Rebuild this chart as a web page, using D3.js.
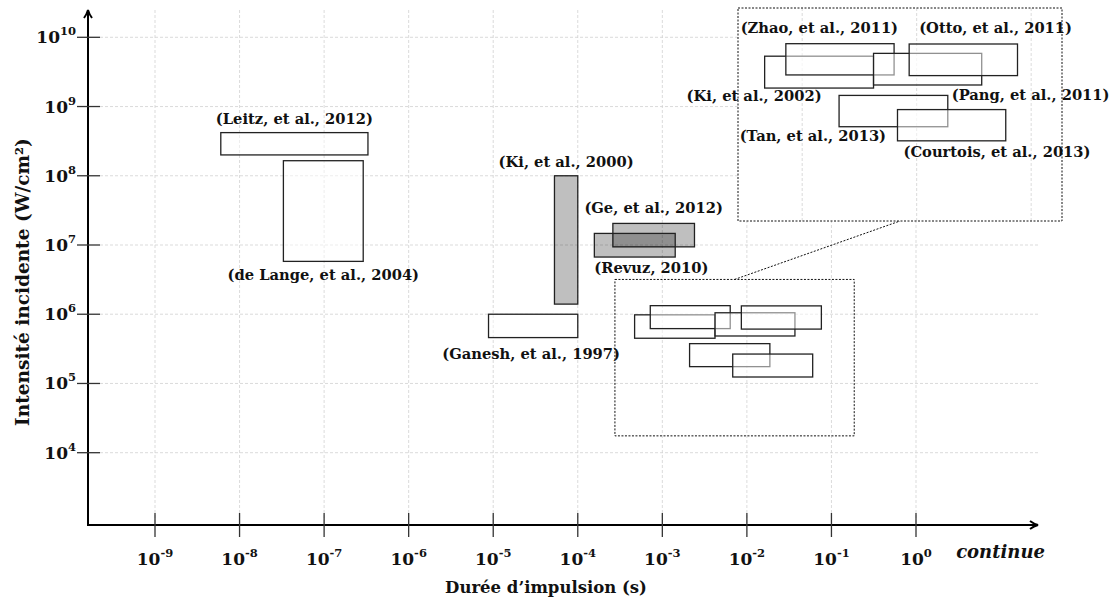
<!DOCTYPE html>
<html>
<head>
<meta charset="UTF-8">
<title>Intensité incidente vs durée d'impulsion</title>
<script src="https://d3js.org/d3.v7.min.js"></script>
<style>
  body { margin: 0; background: #fff; }
  text { font-family: "DejaVu Serif", serif; font-weight: bold; fill: #111; }
  .grid line { stroke: #d2d2d2; stroke-dasharray: 3,2; stroke-width: 0.8; }
  .tick { stroke: #333; stroke-width: 1.3; }
  .axis { stroke: #000; stroke-width: 2; fill: none; }
  .frame { fill: none; stroke: #111; stroke-width: 1; stroke-dasharray: 2,1.5; }
  .box { fill: #fff; fill-opacity: 0.5; stroke: #222; stroke-width: 1.3; }
  .box.shaded { fill: #000; fill-opacity: 0.25; }
</style>
</head>
<body>
<div id="chart"></div>
<script>
// études : durée d'impulsion (s) et intensité (W/cm²), min / max
const studies = [
  "Leitz, et al., 2012", "de Lange, et al., 2004", "Ki, et al., 2000",
  "Ge, et al., 2012", "Revuz, 2010", "Ganesh, et al., 1997",
  "Ki, et al., 2002", "Zhao, et al., 2011", "Pang, et al., 2011",
  "Otto, et al., 2011", "Tan, et al., 2013", "Courtois, et al., 2013"
];
const durationMin  = [6e-9, 3.3e-8, 5.3e-5, 2.6e-4, 1.57e-4, 8.8e-6, 4.7e-4, 7.2e-4, 4.2e-3, 8.6e-3, 2.1e-3, 6.8e-3];
const durationMax  = [3.3e-7, 2.9e-7, 1e-4, 2.4e-3, 1.42e-3, 1e-4, 4.2e-3, 6.35e-3, 3.7e-2, 7.6e-2, 1.87e-2, 6.0e-2];
const intensityMin = [2e8, 5.8e6, 1.4e6, 9.4e6, 6.7e6, 4.6e5, 4.5e5, 6.2e5, 4.85e5, 6.1e5, 1.75e5, 1.24e5];
const intensityMax = [4.2e8, 1.65e8, 1e8, 2.05e7, 1.47e7, 1e6, 9.8e5, 1.33e6, 1.05e6, 1.32e6, 3.76e5, 2.66e5];

const shadedStudies = ["Ki, et al., 2000", "Ge, et al., 2012", "Revuz, 2010"];
const zoomedStudies = ["Ki, et al., 2002", "Zhao, et al., 2011", "Pang, et al., 2011",
                       "Otto, et al., 2011", "Tan, et al., 2013", "Courtois, et al., 2013"];

const xTickValues = [1e-9, 1e-8, 1e-7, 1e-6, 1e-5, 1e-4, 1e-3, 1e-2, 1e-1, 1];
const yTickValues = [1e4, 1e5, 1e6, 1e7, 1e8, 1e9, 1e10];
const continuousLabel = "continue";
const continuousPos = 10; // place "continue" one decade after 10^0
const zoomDuration = [2.75e-4, 0.186];
const zoomIntensity = [1.75e4, 3.18e6];

// label placement relative to each box
const labelPlacement = {
  "Leitz, et al., 2012":    { v: "top", h: "mid", anchor: "middle", dx: 0, dy: -9 },
  "de Lange, et al., 2004": { v: "bottom", h: "mid", anchor: "middle", dx: 0, dy: 19 },
  "Ki, et al., 2000":       { v: "top", h: "mid", anchor: "middle", dx: 0, dy: -9 },
  "Ge, et al., 2012":       { v: "top", h: "mid", anchor: "middle", dx: 0, dy: -10 },
  "Revuz, 2010":            { v: "bottom", h: "left", anchor: "start", dx: 0, dy: 16 },
  "Ganesh, et al., 1997":   { v: "bottom", h: "mid", anchor: "middle", dx: -2, dy: 21 },
  "Ki, et al., 2002":       { v: "bottom", h: "left", anchor: "end", dx: 57, dy: 13 },
  "Zhao, et al., 2011":     { v: "top", h: "right", anchor: "end", dx: 4, dy: -11 },
  "Pang, et al., 2011":     { v: "bottom", h: "right", anchor: "start", dx: -30, dy: 15 },
  "Otto, et al., 2011":     { v: "top", h: "left", anchor: "start", dx: 10, dy: -11 },
  "Tan, et al., 2013":      { v: "bottom", h: "left", anchor: "end", dx: 47, dy: 14 },
  "Courtois, et al., 2013": { v: "bottom", h: "left", anchor: "start", dx: 6, dy: 16 }
};

const data = studies.map((s, i) => ({
  name: s, x0: durationMin[i], x1: durationMax[i], y0: intensityMin[i], y1: intensityMax[i],
  shaded: shadedStudies.includes(s), zoomed: zoomedStudies.includes(s)
}));

const width = 1113, height = 602;
const originX = 88, originY = 525, axisEndX = 1038, axisTopY = 10;

const x = d3.scaleLog().domain([1e-9, 1]).range([155, 916]);
const y = d3.scaleLog().domain([1e4, 1e10]).range([452.7, 37.3]);

// inset (zoom) placement
const inset = { left: 738, top: 8, right: 1062, bottom: 221 };
const xi = d3.scaleLog().domain(zoomDuration).range([inset.left, inset.right]);
const yi = d3.scaleLog().domain(zoomIntensity).range([inset.bottom, inset.top]);

const svg = d3.select("#chart").append("svg")
  .attr("width", width).attr("height", height);

// grid
const grid = svg.append("g").attr("class", "grid");
grid.selectAll(".gx").data(xTickValues).join("line")
  .attr("x1", d => x(d)).attr("x2", d => x(d))
  .attr("y1", axisTopY).attr("y2", originY);
grid.selectAll(".gy").data(yTickValues).join("line")
  .attr("x1", originX + 12).attr("x2", axisEndX)
  .attr("y1", d => y(d)).attr("y2", d => y(d));

function superscriptLabel(sel, exps) {
  sel.text("10");
  sel.append("tspan").attr("dy", -8).attr("font-size", "11.5px").text(d => exps(d));
}

// boxes in main view
function drawBoxes(g, rows, sx, sy) {
  g.selectAll("rect").data(rows).join("rect")
    .attr("class", d => "box" + (d.shaded ? " shaded" : ""))
    .attr("x", d => sx(d.x0)).attr("y", d => sy(d.y1))
    .attr("width", d => sx(d.x1) - sx(d.x0))
    .attr("height", d => sy(d.y0) - sy(d.y1));
}
function drawLabels(g, rows, sx, sy) {
  g.selectAll("text").data(rows).join("text")
    .attr("font-size", "14.7px")
    .attr("text-anchor", d => labelPlacement[d.name].anchor)
    .attr("x", d => {
      const p = labelPlacement[d.name];
      const bx = p.h === "left" ? sx(d.x0) : p.h === "right" ? sx(d.x1) : (sx(d.x0) + sx(d.x1)) / 2;
      return bx + p.dx;
    })
    .attr("y", d => {
      const p = labelPlacement[d.name];
      return (p.v === "top" ? sy(d.y1) : sy(d.y0)) + p.dy;
    })
    .text(d => "(" + d.name + ")");
}

// zoom frame in main view + connector
const zx0 = x(zoomDuration[0]), zx1 = x(zoomDuration[1]);
const zy0 = y(zoomIntensity[1]), zy1 = y(zoomIntensity[0]);
svg.append("rect").attr("class", "frame")
  .attr("x", zx0).attr("y", zy0).attr("width", zx1 - zx0).attr("height", zy1 - zy0);
svg.append("line").attr("class", "frame")
  .attr("x1", (zx0 + zx1) / 2).attr("y1", zy0)
  .attr("x2", (inset.left + inset.right) / 2).attr("y2", inset.bottom);

drawBoxes(svg.append("g"), data, x, y);
drawLabels(svg.append("g"), data.filter(d => !d.zoomed), x, y);

// axes
svg.append("line").attr("class", "axis")
  .attr("x1", originX).attr("y1", originY).attr("x2", axisEndX - 2).attr("y2", originY);
svg.append("line").attr("class", "axis")
  .attr("x1", originX).attr("y1", originY + 1).attr("x2", originX).attr("y2", axisTopY + 2);
svg.append("path").attr("class", "axis").attr("stroke-width", 1.6)
  .attr("d", `M${axisEndX - 8},${originY - 4} Q${axisEndX - 4},${originY - 1} ${axisEndX},${originY} Q${axisEndX - 4},${originY + 1} ${axisEndX - 8},${originY + 4}`);
svg.append("path").attr("class", "axis").attr("stroke-width", 1.6)
  .attr("d", `M${originX - 4},${axisTopY + 8} Q${originX - 1},${axisTopY + 4} ${originX},${axisTopY} Q${originX + 1},${axisTopY + 4} ${originX + 4},${axisTopY + 8}`);

// ticks
svg.selectAll(".xt").data(xTickValues).join("line").attr("class", "tick")
  .attr("x1", d => x(d)).attr("x2", d => x(d)).attr("y1", originY - 12).attr("y2", originY + 12);
svg.selectAll(".yt").data(yTickValues).join("line").attr("class", "tick")
  .attr("x1", originX - 11).attr("x2", originX + 12).attr("y1", d => y(d)).attr("y2", d => y(d));

svg.append("g").selectAll("text").data(xTickValues).join("text")
  .attr("x", d => x(d)).attr("y", 565).attr("text-anchor", "middle").attr("font-size", "17px")
  .call(superscriptLabel, d => (d < 1 ? "-" : "") + Math.abs(Math.round(Math.log10(d))));
svg.append("g").selectAll("text").data(yTickValues).join("text")
  .attr("x", originX - 12).attr("y", d => y(d) + 6).attr("text-anchor", "end").attr("font-size", "17px")
  .call(superscriptLabel, d => Math.round(Math.log10(d)));

svg.append("text").attr("x", x(continuousPos)).attr("y", 558).attr("text-anchor", "middle")
  .attr("font-size", "18px").attr("font-style", "italic").attr("font-weight", "normal")
  .text(continuousLabel);

svg.append("text").attr("x", 546).attr("y", 593).attr("text-anchor", "middle")
  .attr("font-size", "16.5px").text("Durée d’impulsion (s)");
svg.append("text").attr("transform", "translate(29,282) rotate(-90)").attr("text-anchor", "middle")
  .attr("font-size", "18.5px").text("Intensité incidente (W/cm²)");

// inset
const ig = svg.append("g");
ig.append("rect").attr("x", inset.left).attr("y", inset.top)
  .attr("width", inset.right - inset.left).attr("height", inset.bottom - inset.top).attr("fill", "#fff");
ig.append("g").attr("class", "grid").selectAll("line")
  .data(xTickValues.filter(d => d > zoomDuration[0] && d < zoomDuration[1])).join("line")
  .attr("x1", d => xi(d)).attr("x2", d => xi(d)).attr("y1", inset.top).attr("y2", inset.bottom);
drawBoxes(ig.append("g"), data.filter(d => d.zoomed), xi, yi);
drawLabels(ig.append("g"), data.filter(d => d.zoomed), xi, yi);
ig.append("rect").attr("class", "frame").attr("x", inset.left).attr("y", inset.top)
  .attr("width", inset.right - inset.left).attr("height", inset.bottom - inset.top);
</script>
</body>
</html>
